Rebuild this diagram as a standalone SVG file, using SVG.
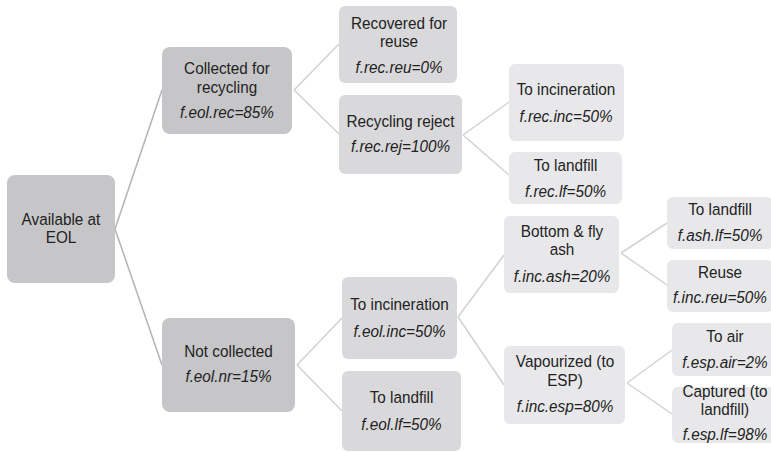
<svg xmlns="http://www.w3.org/2000/svg" width="771" height="452" viewBox="0 0 771 452">
<style>
.l0{fill:#c6c6c8}
.l1{fill:#d9d9db}
.l2{fill:#e8e8ea}
text{font-family:"Liberation Sans",Arial,sans-serif;font-size:17px;fill:#222222;text-anchor:middle}
.i{font-style:italic}
.c1{stroke:#b3b3b3;stroke-width:1.5;fill:none}
.c2{stroke:#d2d2d4;stroke-width:1.5;fill:none}
</style>
<rect width="771" height="452" fill="#ffffff"/>
<g id="connectors">
<line class="c1" x1="115" y1="229" x2="162" y2="90"/>
<line class="c1" x1="115" y1="229" x2="162" y2="365"/>
<line class="c2" x1="294" y1="90" x2="339" y2="44"/>
<line class="c2" x1="294" y1="90" x2="339" y2="134"/>
<line class="c2" x1="463" y1="135" x2="509" y2="102"/>
<line class="c2" x1="463" y1="135" x2="509" y2="175"/>
<line class="c2" x1="297" y1="365" x2="342" y2="318"/>
<line class="c2" x1="297" y1="365" x2="342" y2="411"/>
<line class="c2" x1="458" y1="317" x2="504" y2="255"/>
<line class="c2" x1="458" y1="317" x2="504" y2="385"/>
<line class="c2" x1="621" y1="253" x2="667" y2="223"/>
<line class="c2" x1="621" y1="253" x2="667" y2="285"/>
<line class="c2" x1="627" y1="383" x2="672" y2="350"/>
<line class="c2" x1="627" y1="383" x2="672" y2="414"/>
</g>
<g id="available">
<rect class="l0" x="7" y="175" width="108" height="108" rx="8"/>
<text transform="translate(61 225) scale(0.9 1)">Available at</text>
<text transform="translate(61 243) scale(0.9 1)">EOL</text>
</g>
<g id="collected">
<rect class="l0" x="162" y="47" width="130" height="87" rx="8"/>
<text transform="translate(227 74) scale(0.9 1)">Collected for</text>
<text transform="translate(227 93) scale(0.9 1)">recycling</text>
<text class="i" transform="translate(227 118) scale(0.9 1)">f.eol.rec=85%</text>
</g>
<g id="notcollected">
<rect class="l0" x="162" y="318" width="133" height="94" rx="8"/>
<text transform="translate(228.5 357) scale(0.9 1)">Not collected</text>
<text class="i" transform="translate(228.5 382) scale(0.9 1)">f.eol.nr=15%</text>
</g>
<g id="recovered">
<rect class="l1" x="339" y="6" width="118" height="77" rx="6"/>
<text transform="translate(399 29) scale(0.9 1)">Recovered for</text>
<text transform="translate(399 47) scale(0.9 1)">reuse</text>
<text class="i" transform="translate(399 73) scale(0.9 1)">f.rec.reu=0%</text>
</g>
<g id="reject">
<rect class="l1" x="339" y="95" width="123" height="79" rx="6"/>
<text transform="translate(400.5 127) scale(0.9 1)">Recycling reject</text>
<text class="i" transform="translate(400.5 152) scale(0.9 1)">f.rec.rej=100%</text>
</g>
<g id="rec_inc">
<rect class="l2" x="509" y="64" width="115" height="77" rx="6"/>
<text transform="translate(566 95) scale(0.9 1)">To incineration</text>
<text class="i" transform="translate(566 122) scale(0.9 1)">f.rec.inc=50%</text>
</g>
<g id="rec_lf">
<rect class="l2" x="509" y="152" width="113" height="52" rx="6"/>
<text transform="translate(565.5 171) scale(0.9 1)">To landfill</text>
<text class="i" transform="translate(565.5 197) scale(0.9 1)">f.rec.lf=50%</text>
</g>
<g id="eol_inc">
<rect class="l1" x="342" y="277" width="115" height="82" rx="6"/>
<text transform="translate(399.5 310) scale(0.9 1)">To incineration</text>
<text class="i" transform="translate(399.5 337) scale(0.9 1)">f.eol.inc=50%</text>
</g>
<g id="eol_lf">
<rect class="l1" x="342" y="371" width="119" height="80" rx="6"/>
<text transform="translate(401.5 403) scale(0.9 1)">To landfill</text>
<text class="i" transform="translate(401.5 430) scale(0.9 1)">f.eol.lf=50%</text>
</g>
<g id="ash">
<rect class="l2" x="504" y="216" width="115" height="77" rx="6"/>
<text transform="translate(562 237) scale(0.9 1)">Bottom &amp; fly</text>
<text transform="translate(562 255) scale(0.9 1)">ash</text>
<text class="i" transform="translate(562 282) scale(0.9 1)">f.inc.ash=20%</text>
</g>
<g id="esp">
<rect class="l2" x="504" y="346" width="121" height="78" rx="6"/>
<text transform="translate(565 367) scale(0.9 1)">Vapourized (to</text>
<text transform="translate(565 386) scale(0.9 1)">ESP)</text>
<text class="i" transform="translate(565 412) scale(0.9 1)">f.inc.esp=80%</text>
</g>
<g id="ash_lf">
<rect class="l2" x="667" y="197" width="106" height="52" rx="6"/>
<text transform="translate(720 215) scale(0.9 1)">To landfill</text>
<text class="i" transform="translate(720 241) scale(0.9 1)">f.ash.lf=50%</text>
</g>
<g id="reuse">
<rect class="l2" x="667" y="260" width="106" height="52" rx="6"/>
<text transform="translate(720 278) scale(0.9 1)">Reuse</text>
<text class="i" transform="translate(720 303) scale(0.9 1)">f.inc.reu=50%</text>
</g>
<g id="air">
<rect class="l2" x="672" y="323" width="106" height="53" rx="6"/>
<text transform="translate(725 342) scale(0.9 1)">To air</text>
<text class="i" transform="translate(725 368) scale(0.9 1)">f.esp.air=2%</text>
</g>
<g id="captured">
<rect class="l2" x="672" y="387" width="106" height="56" rx="6"/>
<text transform="translate(725 397) scale(0.9 1)">Captured (to</text>
<text transform="translate(725 415) scale(0.9 1)">landfill)</text>
<text class="i" transform="translate(725 440) scale(0.9 1)">f.esp.lf=98%</text>
</g>
</svg>
